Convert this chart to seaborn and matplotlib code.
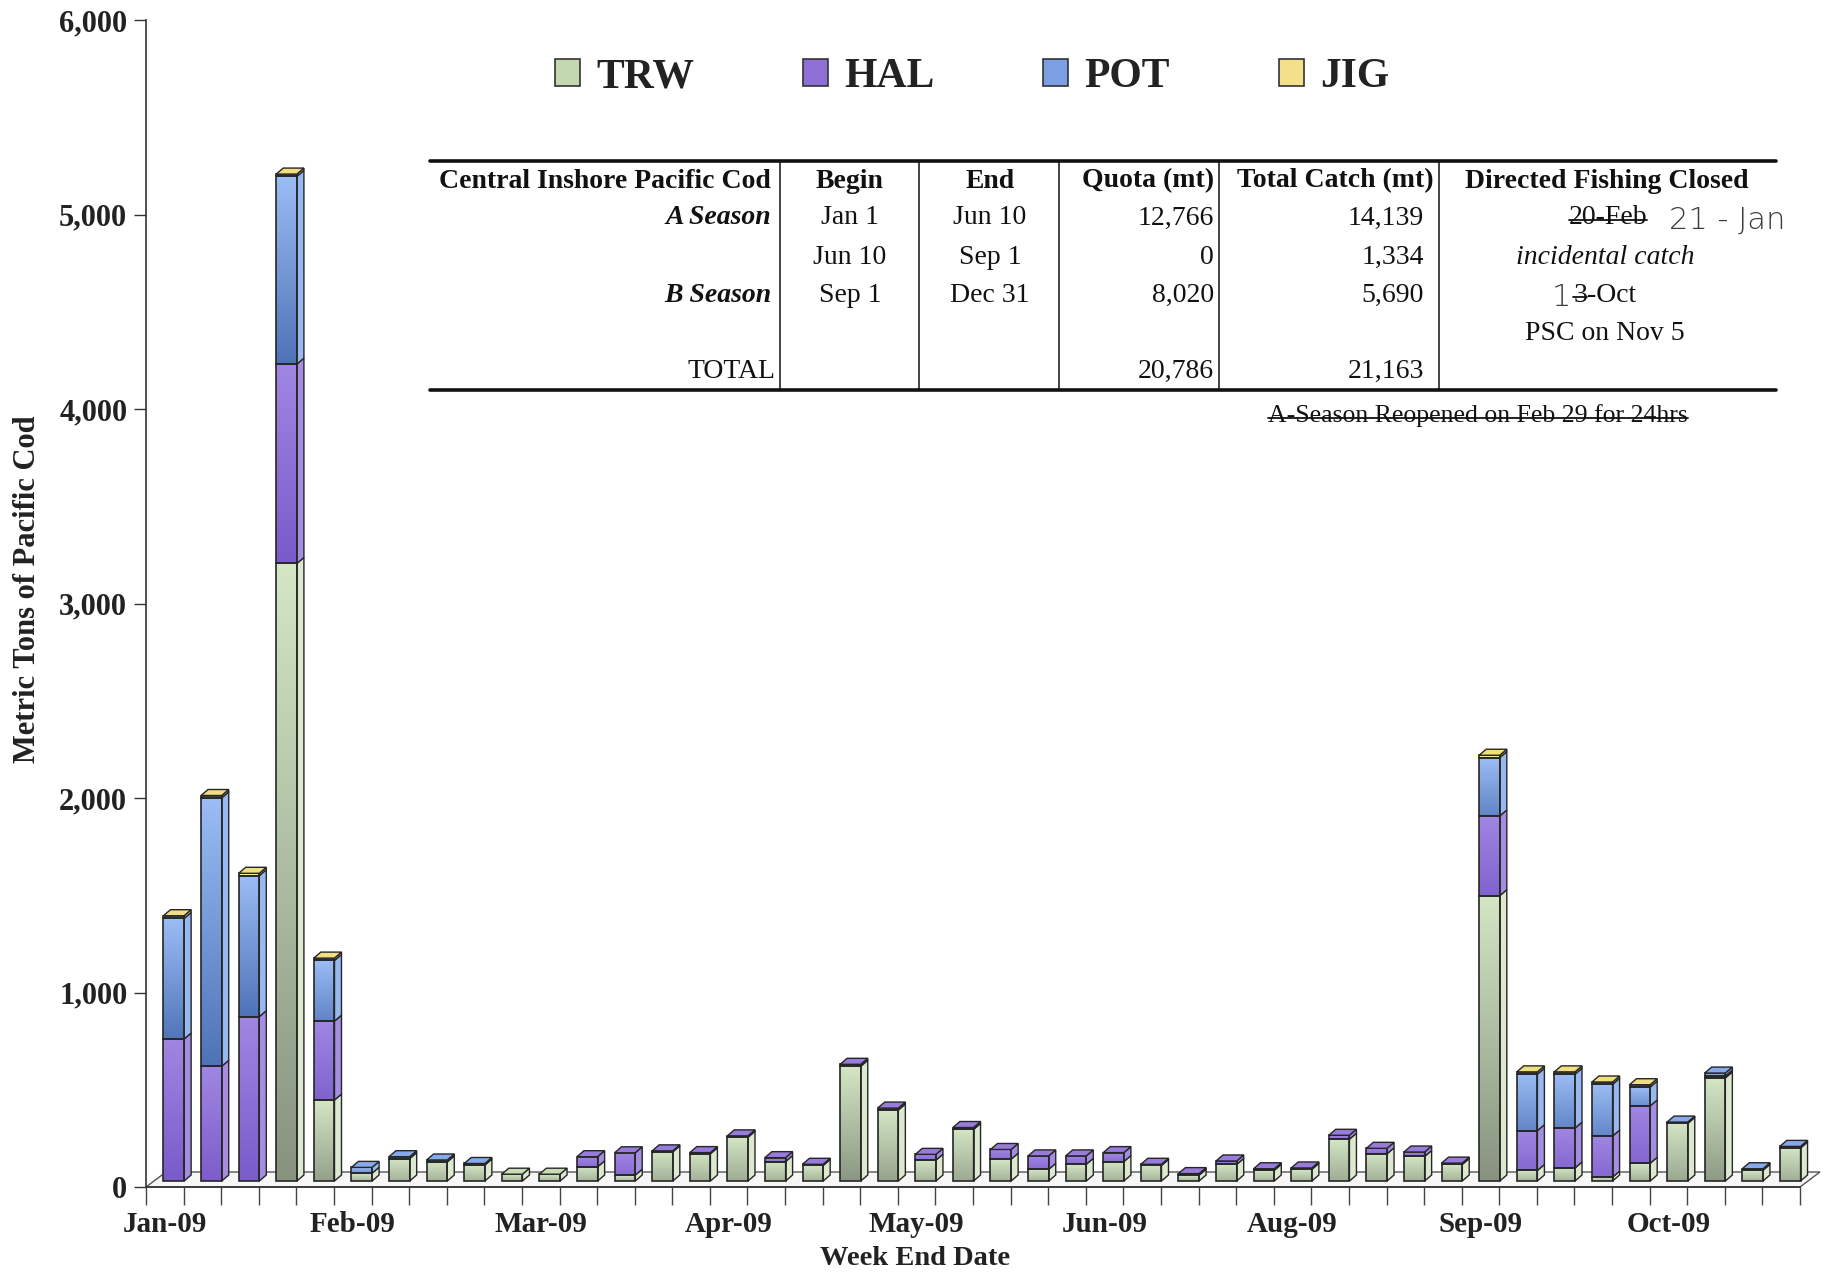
import numpy as np
import pandas as pd
import matplotlib
matplotlib.use("Agg")
import matplotlib.pyplot as plt
import seaborn as sns
from matplotlib.patches import Polygon, Patch
from matplotlib.lines import Line2D
from matplotlib.transforms import ScaledTranslation

# ---------------------------------------------------------------- data
week_end = [
    "2009-01-03", "2009-01-10", "2009-01-17", "2009-01-24", "2009-01-31",
    "2009-02-07", "2009-02-14", "2009-02-21", "2009-02-28",
    "2009-03-07", "2009-03-14", "2009-03-21", "2009-03-28",
    "2009-04-04", "2009-04-11", "2009-04-18", "2009-04-25",
    "2009-05-02", "2009-05-09", "2009-05-16", "2009-05-23", "2009-05-30",
    "2009-06-06", "2009-06-13", "2009-06-20", "2009-06-27",
    "2009-07-04", "2009-07-11", "2009-07-18", "2009-07-25",
    "2009-08-01", "2009-08-08", "2009-08-15", "2009-08-22", "2009-08-29",
    "2009-09-05", "2009-09-12", "2009-09-19", "2009-09-26",
    "2009-10-03", "2009-10-10", "2009-10-17", "2009-10-24", "2009-10-31",
]
trw = [0, 0, 0, 3175, 416, 40, 115, 98, 82, 35, 35, 73, 30, 150, 140, 225,
       100, 80, 590, 365, 107, 265, 112, 60, 86, 100, 80, 30, 85, 55, 60, 215,
       140, 126, 85, 1467, 54, 67, 20, 91, 296, 530, 55, 170]
hal = [730, 590, 845, 1025, 406, 0, 0, 0, 0, 0, 0, 52, 115, 5, 6, 7,
       20, 6, 10, 10, 30, 10, 50, 69, 43, 46, 6, 8, 18, 8, 7, 20,
       28, 23, 7, 410, 205, 205, 211, 295, 0, 10, 0, 0]
pot = [620, 1380, 725, 965, 312, 30, 10, 10, 8, 0, 0, 0, 0, 0, 0, 0,
       0, 0, 0, 0, 0, 0, 0, 0, 0, 0, 0, 0, 0, 0, 0, 0,
       0, 0, 0, 300, 290, 277, 266, 97, 7, 15, 8, 8]
jig = [14, 12, 12, 12, 12, 0, 0, 0, 0, 0, 0, 0, 0, 0, 0, 0,
       0, 0, 0, 0, 0, 0, 0, 0, 0, 0, 0, 0, 0, 0, 0, 0,
       0, 0, 0, 12, 12, 12, 12, 12, 0, 0, 0, 0]
gear_names = ["TRW", "HAL", "POT", "JIG"]
y_ticks = [0, 1000, 2000, 3000, 4000, 5000, 6000]
label_every = 5

table_header = ["Central Inshore Pacific Cod", "Begin", "End", "Quota (mt)",
                "Total Catch (mt)", "Directed Fishing Closed"]
season_names = ["A Season", "", "B Season"]
season_begin = ["Jan 1", "Jun 10", "Sep 1"]
season_end = ["Jun 10", "Sep 1", "Dec 31"]
season_quota = ["12,766", "0", "8,020"]
season_catch = ["14,139", "1,334", "5,690"]
total_quota = "20,786"
total_catch = "21,163"

# ---------------------------------------------------------------- style
sns.set_theme(style="white")
plt.rcParams["font.family"] = ["Liberation Serif", "DejaVu Serif"]

face_top = {"TRW": "#d4e6c4", "HAL": "#a086e2", "POT": "#9bbcf4", "JIG": "#f7ea9c"}
face_bot = {"TRW": "#87937f", "HAL": "#7a5bca", "POT": "#4f73b8", "JIG": "#efdc82"}
side_col = {"TRW": "#dce9cf", "HAL": "#a58de2", "POT": "#98b9f0", "JIG": "#f3e7a2"}
lid_col = {"TRW": "#c9dcb8", "HAL": "#987bdc", "POT": "#86a9ec", "JIG": "#f1de7e"}
legend_col = {"TRW": "#c3d7b1", "HAL": "#8d6fd6", "POT": "#7c9fe4", "JIG": "#f3e08a"}
EDGE = "#262626"

DPI = 100
W, H = 1841, 1272
fig = plt.figure(figsize=(W / DPI, H / DPI), dpi=DPI)
fig.patch.set_facecolor("white")

ax_l, ax_r, ax_b, ax_t = 146, 1800, 1187, 20
ax = fig.add_axes([ax_l / W, 1 - ax_b / H, (ax_r - ax_l) / W, (ax_b - ax_t) / H])
ax.set_facecolor("none")

n = len(week_end)
px_per_cat = (ax_r - ax_l) / n
px_per_val = (ax_b - ax_t) / (y_ticks[-1] - y_ticks[0])

# 3-D look: bars sit a little behind the front axis, with a depth face
bar_shift = ScaledTranslation(9 / DPI, 6 / DPI, fig.dpi_scale_trans)
tr = ax.transData + bar_shift
depth_dx = 7 / px_per_cat
depth_dy = 6 / px_per_val

df = pd.DataFrame({"week": week_end, "TRW": trw, "HAL": hal, "POT": pot, "JIG": jig})

# floor of the chart
fdx, fdy = 20 / px_per_cat, 15 / px_per_val
floor = Polygon([(-0.5, 0), (n - 0.5, 0), (n - 0.5 + fdx, fdy), (-0.5 + fdx, fdy)],
                closed=True, facecolor="#f6f6f6", edgecolor="#555555", lw=1.0,
                zorder=0.2, clip_on=False, transform=ax.transData)
ax.add_patch(floor)

base = np.zeros(n)
segments = []
for name in gear_names:
    vals = df[name].to_numpy(dtype=float)
    before = len(ax.patches)
    sns.barplot(data=df, x="week", y=name, order=week_end, bottom=base,
                color=legend_col[name], saturation=1, width=0.55,
                errorbar=None, ax=ax, edgecolor=EDGE, linewidth=1.2)
    new = ax.patches[before:]
    for i, p in enumerate(new):
        segments.append((name, i, p, base[i], vals[i]))
    base = base + vals
totals = base

for name, i, p, y0, h in segments:
    p.set_transform(tr)
    p.set_clip_on(False)
    p.set_zorder(1.5)
    if h <= 0:
        p.set_visible(False)
        continue
    p.set_facecolor("none")
    x0 = p.get_x()
    x1 = x0 + p.get_width()
    # shading from a light top to a darker foot, deeper on tall blocks
    depth = min(1.0, 0.55 + h / 1500.0)
    t = np.linspace(0, depth, 64)[:, None]
    c0 = np.array(matplotlib.colors.to_rgb(face_top[name]))
    c1 = np.array(matplotlib.colors.to_rgb(face_bot[name]))
    grad = ((1 - t) * c0 + t * c1).reshape(64, 1, 3)
    im = ax.imshow(grad, extent=(x0, x1, y0, y0 + h), origin="upper",
                   aspect="auto", interpolation="bilinear", zorder=1.0)
    im.set_transform(tr)
    im.set_clip_path(p)
    side = Polygon([(x1, y0), (x1 + depth_dx, y0 + depth_dy),
                    (x1 + depth_dx, y0 + h + depth_dy), (x1, y0 + h)],
                   closed=True, facecolor=side_col[name], edgecolor=EDGE,
                   lw=1.0, zorder=1.2, clip_on=False, transform=tr)
    ax.add_patch(side)

# lids in the colour of the top-most gear of each week
for i in range(n):
    top_name = None
    for name in gear_names:
        if df[name].iloc[i] > 0:
            top_name = name
    if top_name is None:
        continue
    p = [s[2] for s in segments if s[0] == top_name and s[1] == i][0]
    x0 = p.get_x()
    x1 = x0 + p.get_width()
    yt = totals[i]
    lid = Polygon([(x0, yt), (x1, yt), (x1 + depth_dx, yt + depth_dy),
                   (x0 + depth_dx, yt + depth_dy)], closed=True,
                  facecolor=lid_col[top_name], edgecolor=EDGE, lw=1.0,
                  zorder=1.6, clip_on=False, transform=tr)
    ax.add_patch(lid)

# ---------------------------------------------------------------- axes
ax.set_xlim(-0.5, n - 0.5)
ax.set_ylim(y_ticks[0], y_ticks[-1])
ax.set_xlabel("")
ax.set_ylabel("")
sns.despine(ax=ax)
for side_name in ("left", "bottom"):
    ax.spines[side_name].set_color("#333333")
    ax.spines[side_name].set_linewidth(1.2)

ax.set_yticks(y_ticks, labels=[f"{v:,}" for v in y_ticks])
ax.tick_params(axis="y", direction="out", length=8.5, width=1.0, color="#333333",
               pad=5, labelsize=22, labelcolor="#222222", left=True)
for lbl in ax.get_yticklabels():
    lbl.set_fontweight("bold")

tick_idx = list(range(0, n, label_every))
tick_lab = [pd.Timestamp(week_end[k]).strftime("%b-%y") for k in tick_idx]
ax.set_xticks(tick_idx, labels=tick_lab)
ax.set_xticks(np.arange(-0.5, n, 1.0), minor=True)
ax.tick_params(axis="x", which="major", length=0, pad=17.5, labelsize=21,
               labelcolor="#222222", bottom=True)
ax.tick_params(axis="x", which="minor", direction="out", length=13, width=1.0,
               color="#444444", bottom=True)
for lbl in ax.get_xticklabels():
    lbl.set_fontweight("bold")

fig.text(28 / W, 1 - 589 / H, "Metric Tons of Pacific Cod", rotation=90,
         ha="center", va="center", fontsize=22, fontweight="bold", color="#222222")
fig.text(915 / W, 1 - 1265 / H, "Week End Date", ha="center", va="baseline",
         fontsize=20.5, fontweight="bold", color="#222222")

# ---------------------------------------------------------------- legend
handles = [Patch(facecolor=legend_col[g], edgecolor="#333333", lw=1.2, label=g)
           for g in gear_names]
fig.legend(handles=handles, loc="center", bbox_to_anchor=(972 / W, 1 - 77 / H),
           ncol=4, frameon=False,
           prop=dict(family="Liberation Serif", weight="bold", size=30),
           handlelength=0.6, handleheight=0.6, handletextpad=0.4,
           columnspacing=2.6, labelcolor="#222222")

# ---------------------------------------------------------------- season table
def ftext(x, y, s, ha="center", **kw):
    opts = dict(fontsize=20, color="#111111")
    opts.update(kw)
    return fig.text(x / W, 1 - y / H, s, ha=ha, va="center", **opts)


def fline(x0, y0, x1, y1, lw):
    fig.add_artist(Line2D([x0 / W, x1 / W], [1 - y0 / H, 1 - y1 / H],
                          transform=fig.transFigure, lw=lw, color="#111111"))


rule_l, rule_r, rule_t, rule_b = 430, 1776, 161, 390
fline(rule_l, rule_t, rule_r, rule_t, 2.6)
fline(rule_l, rule_b, rule_r, rule_b, 2.6)
for xv in (780, 919, 1059, 1219, 1439):
    fline(xv, rule_t, xv, rule_b, 1.1)

row_y = [181, 218, 257, 295, 333, 371]
ftext(771, row_y[0], table_header[0], ha="right", fontweight="bold")
ftext(850, row_y[0], table_header[1], fontweight="bold")
ftext(990, row_y[0], table_header[2], fontweight="bold")
ftext(1214, row_y[0], table_header[3], ha="right", fontweight="bold")
ftext(1335, row_y[0], table_header[4], fontweight="bold")
ftext(1607, row_y[0], table_header[5], fontweight="bold")

for r in range(3):
    y = row_y[r + 1]
    if season_names[r]:
        ftext(771, y, season_names[r], ha="right", fontweight="bold", style="italic")
    ftext(850, y, season_begin[r])
    ftext(990, y, season_end[r])
    ftext(1214, y, season_quota[r], ha="right")
    ftext(1424, y, season_catch[r], ha="right")

ftext(775, row_y[5], "TOTAL", ha="right")
ftext(1214, row_y[5], total_quota, ha="right")
ftext(1424, row_y[5], total_catch, ha="right")

struck = []
struck.append(ftext(1608, row_y[1], "20-Feb"))
ftext(1727, row_y[1] + 2, "21 - Jan", fontsize=22, color="#3c3c3c",
      family=["DejaVu Sans"], fontweight="light")
ftext(1605, row_y[2], "incidental catch", style="italic")
struck.append(ftext(1587, row_y[3], "3", ha="right"))
ftext(1587, row_y[3], "-Oct", ha="left")
ftext(1571, row_y[3] + 2, "1", ha="right", fontsize=22, color="#3c3c3c",
      family=["DejaVu Sans"], fontweight="light")
ftext(1605, row_y[4], "PSC on Nov 5")
struck.append(ftext(1478, 416, "A-Season Reopened on Feb 29 for 24hrs", fontsize=18.5))

fig.canvas.draw()
renderer = fig.canvas.get_renderer()
inv = fig.transFigure.inverted()
for t in struck:
    bb = t.get_window_extent(renderer)
    ym = bb.y0 + 0.42 * bb.height
    (fx0, fy), (fx1, _) = inv.transform([(bb.x0, ym), (bb.x1, ym)])
    fig.add_artist(Line2D([fx0, fx1], [fy, fy], transform=fig.transFigure,
                          lw=1.3, color="#111111"))

fig.savefig("out.png", dpi=DPI, facecolor="white")
